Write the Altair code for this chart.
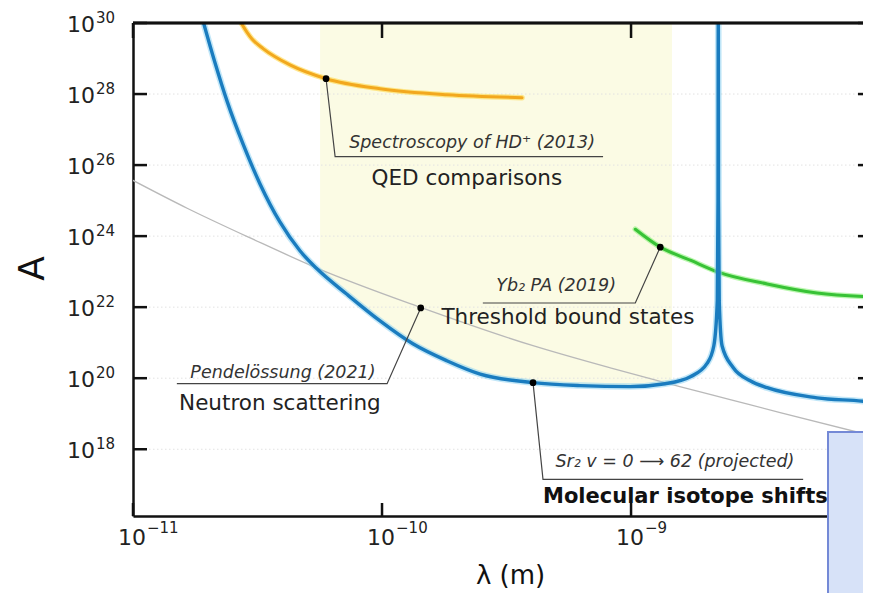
import altair as alt
import pandas as pd

# ---------------- data ----------------
# main blue curve (Sr2 molecular isotope shifts, with resonance spike)
blue_lam = [1.82e-11, 2.13e-11, 2.39e-11, 2.77e-11, 3.24e-11, 3.89e-11, 4.69e-11, 5.48e-11,
            7.23e-11, 9.82e-11, 1.33e-10, 1.82e-10, 2.48e-10, 4.04e-10, 6.24e-10, 9.91e-10,
            1.37e-9, 1.73e-9, 2.02e-9, 2.15e-9, 2.22e-9, 2.235e-9, 2.24e-9, 2.245e-9,
            2.26e-9, 2.32e-9, 2.57e-9, 3.01e-9, 3.52e-9, 5.58e-9, 9.2e-9, 1.0e-8]
blue_A = [3.9e30, 8.0e28, 6.1e27, 3.8e26, 2.9e25, 2.5e24, 3.8e23, 1.2e23,
          2.3e22, 4.1e21, 9.3e20, 3.1e20, 1.3e20, 7.5e19, 6.2e19, 5.8e19,
          7.0e19, 1.1e20, 2.6e20, 8.2e20, 1.5e22, 1.0e25, 4.0e30, 1.0e25,
          1.5e22, 8.2e20, 2.0e20, 8.5e19, 5.4e19, 2.8e19, 2.1e19, 1.8e19]

# shaded (light yellow) region: lower edge along the blue curve, up to the top
shade_lam = [5.64e-11, 7.23e-11, 9.82e-11, 1.33e-10, 1.82e-10, 2.48e-10, 4.04e-10,
             6.24e-10, 9.91e-10, 1.37e-9, 1.46e-9]
shade_low = [1.0e23, 2.3e22, 4.1e21, 9.3e20, 3.1e20, 1.3e20, 7.5e19,
             6.2e19, 5.8e19, 7.0e19, 7.9e19]
shade_top = 1e30

# orange curve (Spectroscopy of HD+)
orange_lam = [2.59e-11, 3.0e-11, 3.33e-11, 4.27e-11, 5.96e-11, 9.82e-11, 1.82e-10, 3.65e-10]
orange_A = [1.8e30, 3.6e29, 1.9e29, 6.6e28, 2.7e28, 1.4e28, 9.5e27, 7.9e27]

# green curve (Yb2 PA)
green_lam = [1.04e-9, 1.31e-9, 1.73e-9, 2.24e-9, 3.52e-9, 5.58e-9, 1.0e-8]
green_A = [1.56e24, 4.9e23, 2.1e23, 9.7e22, 4.5e22, 2.5e22, 1.9e22]

# grey curve (Pendellösung)
grey_lam = [1.0e-11, 1.65e-11, 3.03e-11, 5.48e-11, 1.42e-10, 4.04e-10, 8.47e-10,
            1.57e-9, 2.5e-9, 3.97e-9, 1.0e-8]
grey_A = [3.7e25, 6.1e24, 8.2e23, 1.26e23, 1.0e22, 8.2e20, 1.85e20,
          5.8e19, 2.5e19, 1.08e19, 2.1e18]

# marker dots
dot_lam = [5.96e-11, 1.43e-10, 1.31e-9, 4.04e-10]
dot_A = [2.7e28, 9.5e21, 4.9e23, 7.5e19]

# leader lines (dot -> elbow -> end of underline)
leader_id = ["hd", "hd", "hd", "pen", "pen", "pen", "yb", "yb", "yb", "sr", "sr", "sr"]
leader_lam = [5.96e-11, 6.48e-11, 7.72e-10, 1.43e-10, 1.048e-10, 1.50e-11,
              1.31e-9, 1.04e-9, 2.54e-10, 4.04e-10, 4.43e-10, 4.91e-9]
leader_A = [2.7e28, 1.74e26, 1.74e26, 9.5e21, 7.0e19, 7.0e19,
            4.9e23, 1.31e22, 1.31e22, 7.5e19, 1.42e17, 1.42e17]

# labels
ital_text = ["Spectroscopy of HD\u207a (2013)", "Pendel\u00f6ssung (2021)",
             "Yb\u2082  PA (2019)", "Sr\u2082 v = 0 \u27f6 62 (projected)"]
ital_lam = [2.30e-10, 4.0e-11, 5.0e-10, 1.50e-9]
ital_A = [4.3e26, 1.43e20, 3.9e22, 4.3e17]

reg_text = ["QED comparisons", "Neutron scattering", "Threshold bound states"]
reg_lam = [2.19e-10, 3.89e-11, 5.58e-10]
reg_A = [3.95e25, 1.93e19, 5.0e21]

bold_text = ["Molecular isotope shifts"]
bold_lam = [4.43e-10]
bold_A = [4.45e16]

# axis ticks / labels
ytick_vals = [1e18, 1e20, 1e22, 1e24, 1e26, 1e28, 1e30]
ytick_exp = ["18", "20", "22", "24", "26", "28", "30"]
xtick_vals = [1e-11, 1e-10, 1e-9]
xtick_exp = ["\u221211", "\u221210", "\u22129"]
grid_vals = [1e18, 1e20, 1e22, 1e24, 1e26, 1e28]

# ---------------- chart ----------------
W, H = 730, 493
x_scale = alt.Scale(type="log", domain=[1e-11, 8.54e-9], nice=False)
y_scale = alt.Scale(type="log", domain=[1.32e16, 1e30], nice=False)

x_axis = alt.Axis(domain=True, domainColor="#111111", domainWidth=2.5, ticks=False,
                  labels=False, grid=False, title="\u03bb  (m)", titleFont="DejaVu Sans",
                  titleFontSize=26, titleFontWeight="normal", titleColor="#111111",
                  titleX=377, titleY=59, titleAlign="center", titleBaseline="middle")
y_axis = alt.Axis(domain=True, domainColor="#111111", domainWidth=2.5, ticks=False,
                  labels=False, grid=False, title="A", titleFont="DejaVu Sans",
                  titleFontSize=36, titleFontWeight="normal", titleColor="#111111",
                  titleAngle=270, titleX=-101, titleY=245, titleAlign="center",
                  titleBaseline="middle")


def X(field="lam"):
    return alt.X(f"{field}:Q", scale=x_scale, axis=x_axis)


def Y(field="A"):
    return alt.Y(f"{field}:Q", scale=y_scale, axis=y_axis)


def line_df(lams, As):
    return pd.DataFrame({"lam": lams, "A": As, "i": list(range(len(lams)))})


def curve(df, color, width, opacity=1.0):
    return alt.Chart(df).mark_line(color=color, strokeWidth=width, opacity=opacity, clip=True,
                                   interpolate="monotone",
                                   strokeCap="round", strokeJoin="round").encode(
        x=X(), y=Y(), order=alt.Order("i:Q"))


shade_df = pd.DataFrame({"lam": shade_lam, "A": shade_low, "top": [shade_top] * len(shade_lam)})
shade = alt.Chart(shade_df).mark_area(color="#fbfbe4", clip=True, interpolate="monotone").encode(
    x=X(), y=Y(), y2=alt.Y2("top:Q"))

grid = alt.Chart(pd.DataFrame({"A": grid_vals})).mark_rule(
    color="#e2e2e2", strokeDash=[1.5, 2.5], strokeWidth=1).encode(
    y=Y(), x=alt.value(0), x2=alt.value(W))

grey = curve(line_df(grey_lam, grey_A), "#b9b9b9", 1.3)
orange_h = curve(line_df(orange_lam, orange_A), "#ffd94a", 5.5, 0.6)
orange = curve(line_df(orange_lam, orange_A), "#f2a81e", 3)
green_h = curve(line_df(green_lam, green_A), "#8ef27c", 5.5, 0.6)
green = curve(line_df(green_lam, green_A), "#38c236", 3)
blue_h = curve(line_df(blue_lam, blue_A), "#86cff2", 6.5, 0.5)
blue = curve(line_df(blue_lam, blue_A), "#1a7cbf", 3.4)

lead_df = pd.DataFrame({"id": leader_id, "lam": leader_lam, "A": leader_A,
                        "i": list(range(len(leader_id)))})
leaders = alt.Chart(lead_df).mark_line(color="#444444", strokeWidth=1.2).encode(
    x=X(), y=Y(), detail="id:N", order=alt.Order("i:Q"))

dots = alt.Chart(pd.DataFrame({"lam": dot_lam, "A": dot_A})).mark_circle(
    size=45, color="black", opacity=1).encode(x=X(), y=Y())

ital = alt.Chart(pd.DataFrame({"lam": ital_lam, "A": ital_A, "t": ital_text})).mark_text(
    font="DejaVu Sans", fontStyle="italic", fontSize=17.5, color="#333333",
    align="center", baseline="middle").encode(x=X(), y=Y(), text="t:N")

reg = alt.Chart(pd.DataFrame({"lam": reg_lam, "A": reg_A, "t": reg_text})).mark_text(
    font="DejaVu Sans", fontSize=21.5, color="#222222",
    align="center", baseline="middle").encode(x=X(), y=Y(), text="t:N")

bold = alt.Chart(pd.DataFrame({"lam": bold_lam, "A": bold_A, "t": bold_text})).mark_text(
    font="DejaVu Sans", fontWeight="bold", fontSize=21, color="#111111",
    align="left", baseline="middle").encode(x=X(), y=Y(), text="t:N")

ytk = pd.DataFrame({"A": ytick_vals, "b": ["10"] * len(ytick_vals), "e": ytick_exp})
xtk = pd.DataFrame({"lam": xtick_vals, "b": ["10"] * len(xtick_vals), "e": xtick_exp})

ytick_l = alt.Chart(ytk).mark_rule(color="#111111", strokeWidth=2.5).encode(
    y=Y(), x=alt.value(0), x2=alt.value(14))
ytick_r = alt.Chart(ytk).mark_rule(color="#111111", strokeWidth=2.5).encode(
    y=Y(), x=alt.value(W - 5), x2=alt.value(W))
xtick_t = alt.Chart(xtk).mark_rule(color="#111111", strokeWidth=2.5).encode(
    x=X(), y=alt.value(0), y2=alt.value(15))
xtick_b = alt.Chart(xtk).mark_rule(color="#111111", strokeWidth=2.5).encode(
    x=X(), y=alt.value(H - 13), y2=alt.value(H))
top_frame = alt.Chart(xtk).mark_rule(color="#111111", strokeWidth=2.5).encode(
    x=alt.value(0), x2=alt.value(W), y=alt.value(0))

ylab_b = alt.Chart(ytk).mark_text(font="DejaVu Sans", fontSize=22, color="#222222",
                                  align="right", baseline="middle", dy=2).encode(
    x=alt.value(-38), y=Y(), text="b:N")
ylab_e = alt.Chart(ytk).mark_text(font="DejaVu Sans", fontSize=15, color="#222222",
                                  align="left", baseline="middle", dy=-5).encode(
    x=alt.value(-37), y=Y(), text="e:N")
xlab_b = alt.Chart(xtk).mark_text(font="DejaVu Sans", fontSize=22, color="#222222",
                                  align="right", baseline="middle", dx=13).encode(
    x=X(), y=alt.value(H + 22), text="b:N")
xlab_e = alt.Chart(xtk).mark_text(font="DejaVu Sans", fontSize=15, color="#222222",
                                  align="left", baseline="middle", dx=14).encode(
    x=X(), y=alt.value(H + 12), text="e:N")

overlay = alt.Chart(xtk).mark_rect(fill="#d7e2f8", stroke="#7489d6", strokeWidth=2).encode(
    x=alt.value(695), x2=alt.value(W + 20), y=alt.value(409), y2=alt.value(H + 120))

chart = alt.layer(
    shade, grid, grey, orange_h, orange, green_h, green, blue_h, blue,
    leaders, dots, ital, reg, bold,
    ytick_l, ytick_r, xtick_t, xtick_b, top_frame,
    ylab_b, ylab_e, xlab_b, xlab_e, overlay
).properties(
    width=W, height=H,
    padding={"left": 125, "top": 15, "right": 0, "bottom": 77},
    autosize=alt.AutoSizeParams(type="none"),
    background="white",
).configure_view(stroke=None)

chart.save("out.html", embed_options={"renderer": "svg", "actions": False})
